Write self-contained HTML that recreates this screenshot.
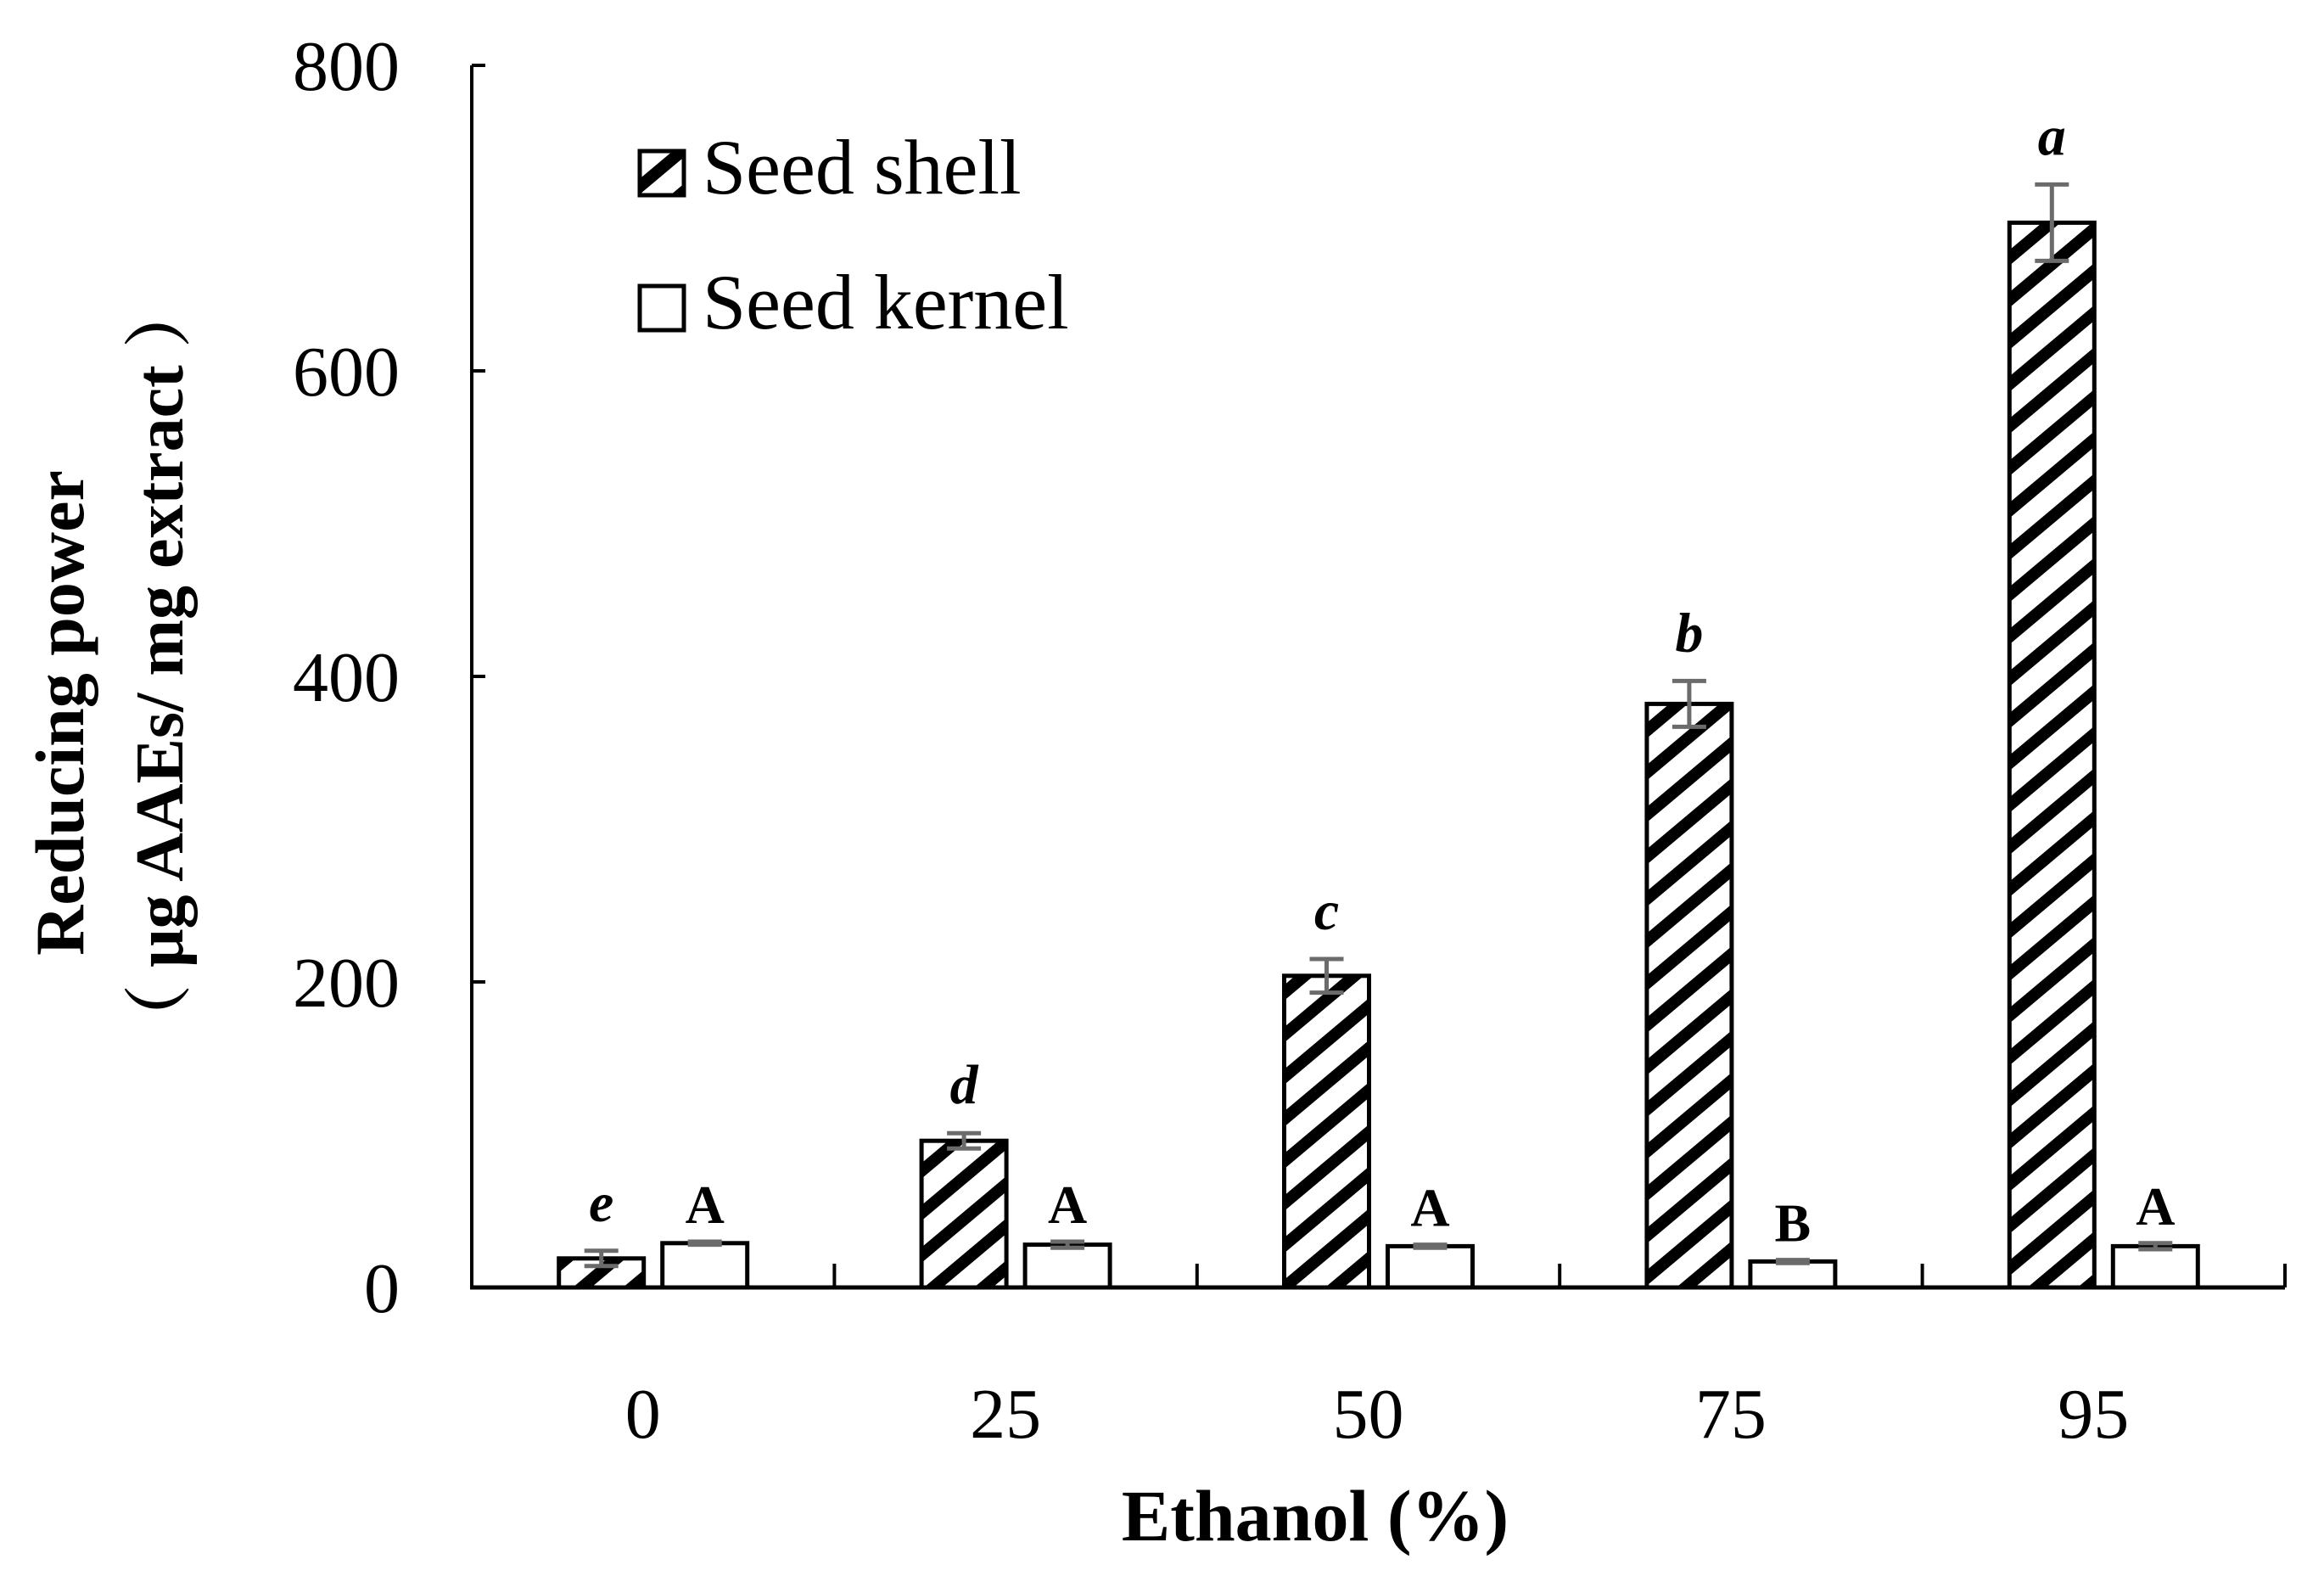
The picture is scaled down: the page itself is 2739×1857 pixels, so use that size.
<!DOCTYPE html>
<html><head><meta charset="utf-8"><style>
html,body{margin:0;padding:0;background:#fff}
svg{display:block;font-family:"Liberation Serif",serif}
</style></head><body>
<svg id="chart" width="2739" height="1857" viewBox="0 0 2739 1857" xmlns="http://www.w3.org/2000/svg">
<defs>
<pattern id="hatch" patternUnits="userSpaceOnUse" width="38" height="38" patternTransform="rotate(-40)">
<rect width="38" height="38" fill="#fff"/>
<rect x="0" y="0" width="38" height="14" fill="#000"/>
</pattern>
</defs>
<g id="axes"></g>
<g id="bars"></g>
<g>
<rect x="754" y="178" width="52" height="52" fill="url(#hatch)" stroke="#000" stroke-width="5"/>
<text x="828" y="228" font-size="92">Seed shell</text>
<rect x="754" y="337" width="52" height="52" fill="#fff" stroke="#000" stroke-width="5"/>
<text x="828" y="387" font-size="92">Seed kernel</text>
</g>
<text transform="translate(98,840) rotate(-90)" text-anchor="middle" font-size="82" font-weight="bold">Reducing power</text>
<text transform="translate(215,785) rotate(-90)" text-anchor="middle" font-size="80" font-weight="bold" font-family="Liberation Serif, Noto Serif CJK SC, serif">（ μg AAEs/ mg extract ）</text>
<text x="1550" y="1815" text-anchor="middle" font-size="86" font-weight="bold">Ethanol (%)</text>
</svg>
<script>
const categories = ["0","25","50","75","95"];
const shellValues = [19, 96, 204, 382, 697];
const shellErrors = [5, 5, 11, 15, 25];
const shellLetters = ["e","d","c","b","a"];
const kernelValues = [29, 28, 27, 17, 27];
const kernelErrors = [1, 2, 1, 1, 2];
const kernelLetters = ["A","A","A","B","A"];
const yTicks = [0, 200, 400, 600, 800];

const NS = "http://www.w3.org/2000/svg";
const x0 = 556, x1 = 2693, yBase = 1517, yTop = 77, yMax = 800;
const groupW = (x1 - x0) / categories.length;
const barW = 100, gap = 22;
function yPx(v){ return yBase - (v / yMax) * (yBase - yTop); }
function groupCenter(i){ return x0 + groupW * (i + 0.5); }
function mk(tag, attrs, parent){
  const el = document.createElementNS(NS, tag);
  for (const k in attrs) el.setAttribute(k, attrs[k]);
  parent.appendChild(el);
  return el;
}
const axes = document.getElementById('axes');
const bars = document.getElementById('bars');

const yAxis = mk('line', {x1:x0, y1:yTop, x2:x0, y2:yBase, stroke:'#000', 'stroke-width':4}, axes);


yTicks.forEach(function(t){
  const tk = mk('line', {x1:x0, y1:yPx(t), x2:x0+16, y2:yPx(t), stroke:'#000', 'stroke-width':4}, axes);
  
  
  const lb = mk('text', {x:x0-85, y:yPx(t)+29, 'text-anchor':'end', 'font-size':84}, axes);
  lb.textContent = t;
  
  
});

categories.forEach(function(c, i){
  const cx = groupCenter(i);
  const sx = cx - gap/2 - barW, kx = cx + gap/2;
  const sb = mk('rect', {x:sx, y:yPx(shellValues[i]), width:barW, height:yBase - yPx(shellValues[i]), fill:'url(#hatch)', stroke:'#000', 'stroke-width':5}, bars);
  
  
  const kb = mk('rect', {x:kx, y:yPx(kernelValues[i]), width:barW, height:yBase - yPx(kernelValues[i]), fill:'#fff', stroke:'#000', 'stroke-width':5}, bars);
  
  
  [[sx + barW/2, shellValues[i], shellErrors[i], 'shell'], [kx + barW/2, kernelValues[i], kernelErrors[i], 'kernel']].forEach(function(e){
    const g = mk('g', {stroke:'#6b6b6b', 'stroke-width':5}, bars);
    
    
    const yt = yPx(e[1] + e[2]), yb = yPx(e[1] - e[2]);
    mk('line', {x1:e[0], y1:yt, x2:e[0], y2:yb}, g);
    mk('line', {x1:e[0]-20, y1:yt, x2:e[0]+20, y2:yt}, g);
    mk('line', {x1:e[0]-20, y1:yb, x2:e[0]+20, y2:yb}, g);
  });
  const sl = mk('text', {x:sx + barW/2, y:yPx(shellValues[i] + shellErrors[i]) - 35, 'text-anchor':'middle', 'font-size':66, 'font-weight':'bold', 'font-style':'italic'}, bars);
  sl.textContent = shellLetters[i];
  
  
  const kl = mk('text', {x:kx + barW/2, y:yPx(kernelValues[i] + kernelErrors[i]) - 22, 'text-anchor':'middle', 'font-size':64, 'font-weight':'bold'}, bars);
  kl.textContent = kernelLetters[i];
  
  
  const xl = mk('text', {x:cx - 12, y:1694, 'text-anchor':'middle', 'font-size':84}, axes);
  xl.textContent = c;
  
  
});
for (let i = 0; i <= categories.length; i++){
  const xx = x0 + groupW * i;
  const tk = mk('line', {x1:xx, y1:yBase, x2:xx, y2:yBase-28, stroke:'#000', 'stroke-width':4}, axes);
  
  
}
const xAxis = mk('line', {x1:x0-2, y1:yBase, x2:x1, y2:yBase, stroke:'#000', 'stroke-width':5}, axes);


</script>
</body></html>
